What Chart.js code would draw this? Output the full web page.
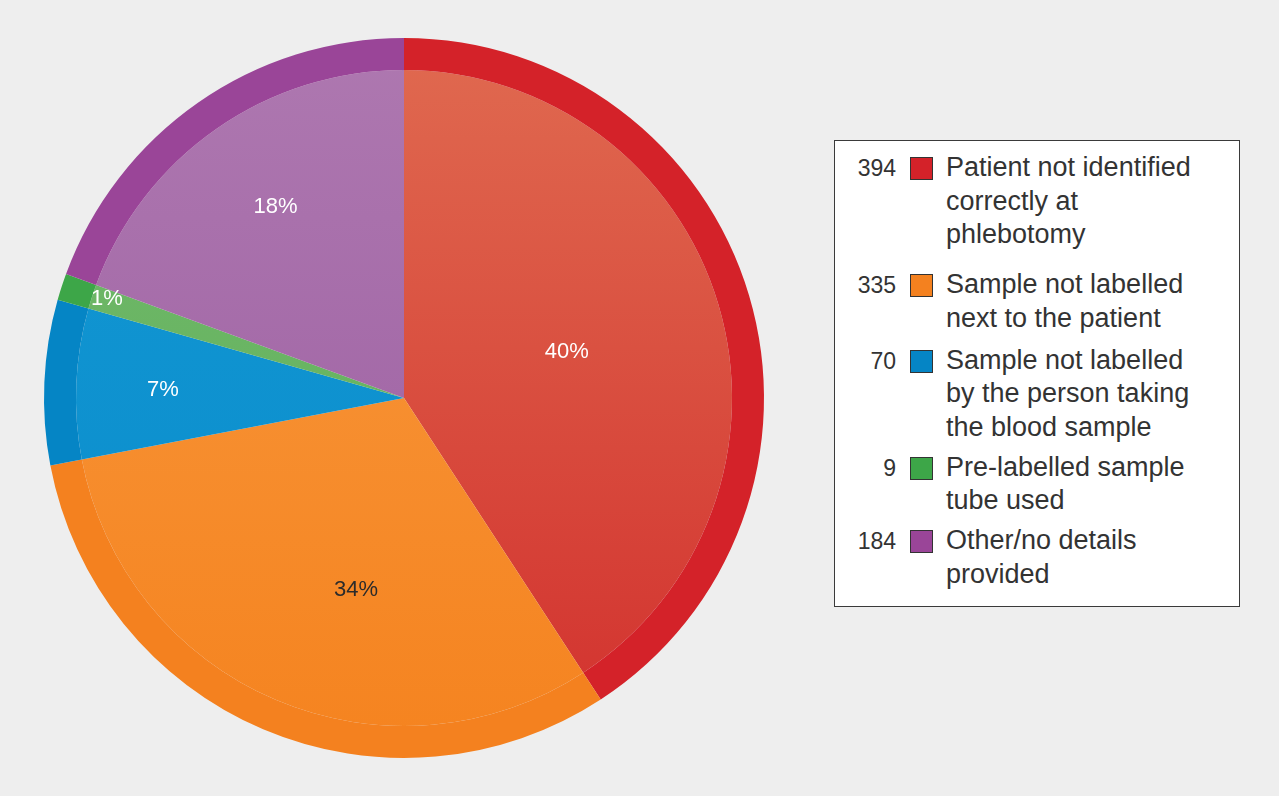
<!DOCTYPE html>
<html>
<head>
<meta charset="utf-8">
<script src="https://cdn.jsdelivr.net/npm/chart.js@4"></script>
<style>
  html, body { margin: 0; padding: 0; background: #eeeeee; }
  body { width: 1279px; height: 796px; position: relative; overflow: hidden; font-family: "Liberation Sans", Arial, sans-serif; }
  #chart { position: absolute; left: 0; top: 0; }
  #legend { position: absolute; left: 834px; top: 140px; width: 406px; height: 467px; box-sizing: border-box;
    border: 1px solid #3a3a3a; background: #fff; padding-top: 10px; color: #333; }
  .row { display: flex; align-items: flex-start; }
  .num { width: 61px; text-align: right; font-size: 23px; line-height: 33.7px; padding-top: 1px; flex: none; }
  .swatch { width: 21px; height: 21px; border: 1px solid #333; margin: 6px 0 0 14px; flex: none; }
  .label { margin-left: 13px; font-size: 27px; line-height: 33.7px; color: #333; }
</style>
</head>
<body>
<canvas id="chart" width="1279" height="796"></canvas>
<div id="legend"></div>
<script>
// data
const categories = [
  ["Patient not identified", "correctly at", "phlebotomy"],
  ["Sample not labelled", "next to the patient"],
  ["Sample not labelled", "by the person taking", "the blood sample"],
  ["Pre-labelled sample", "tube used"],
  ["Other/no details", "provided"]
]
const counts = [394, 335, 70, 9, 184]
const percentLabels = ["40%", "34%", "7%", "1%", "18%"]
// slice sizes (%) as drawn in the picture
const sliceShares = [40.8, 31.2, 7.4, 1.2, 19.4]

// colours: outer ring, inner fill top -> bottom
const ringColors = ["#d42229", "#f4811f", "#0585c5", "#3da648", "#9a4598"]
const innerTop = ["#e06a50", "#f89a40", "#1398d4", "#74ba6c", "#ae78b0"]
const innerBottom = ["#d2302d", "#f5831f", "#0a8ccb", "#5cae58", "#9a5ca0"]

// where the percentage labels sit (fraction of radius, clockwise shift in degrees)
const labelRadius = [0.47, 0.55, 0.67, 0.87, 0.64]
const labelShift = [0.8, -9, -0.5, 0.4, 1]
const labelColors = ["#ffffff", "#2b2b2b", "#ffffff", "#ffffff", "#ffffff"]
const legendGaps = [16, 8, 6, 6, 0]

const sliceLabels = {
  id: "sliceLabels",
  afterDatasetsDraw(chart) {
    const meta = chart.getDatasetMeta(1)
    const outer = chart.getDatasetMeta(0).data[0].outerRadius
    const c = chart.ctx
    c.save()
    c.font = "22px 'Liberation Sans', Arial, sans-serif"
    c.textAlign = "center"
    c.textBaseline = "middle"
    meta.data.forEach((arc, i) => {
      const mid = (arc.startAngle + arc.endAngle) / 2 + labelShift[i] * Math.PI / 180
      const r = outer * labelRadius[i]
      c.fillStyle = labelColors[i]
      c.fillText(percentLabels[i], arc.x + Math.cos(mid) * r, arc.y + Math.sin(mid) * r)
    })
    c.restore()
  }
}

function innerFill(ctx) {
  const i = ctx.dataIndex
  const area = ctx.chart.chartArea
  if (!area) return innerTop[i]
  const g = ctx.chart.ctx.createLinearGradient(0, area.top, 0, area.bottom)
  g.addColorStop(0, innerTop[i])
  g.addColorStop(1, innerBottom[i])
  return g
}

new Chart(document.getElementById("chart"), {
  type: "pie",
  data: {
    labels: categories.map(l => l.join(" ")),
    datasets: [
      { data: sliceShares, backgroundColor: ringColors, borderWidth: 0, weight: 32 },
      { data: sliceShares, backgroundColor: innerFill, borderWidth: 0, weight: 328 }
    ]
  },
  options: {
    responsive: false,
    animation: false,
    devicePixelRatio: 1,
    events: [],
    layout: { padding: { left: 44, top: 38, right: 515, bottom: 38 } },
    plugins: { legend: { display: false }, tooltip: { enabled: false } }
  },
  plugins: [sliceLabels]
})

// legend box with the counts on the left
const legend = document.getElementById("legend")
categories.forEach((lines, i) => {
  const row = document.createElement("div")
  row.className = "row"
  row.style.marginBottom = legendGaps[i] + "px"
  const num = document.createElement("div")
  num.className = "num"
  num.textContent = counts[i]
  const sw = document.createElement("div")
  sw.className = "swatch"
  sw.style.background = ringColors[i]
  const label = document.createElement("div")
  label.className = "label"
  label.innerHTML = lines.join("<br>")
  row.append(num, sw, label)
  legend.appendChild(row)
})
</script>
</body>
</html>
